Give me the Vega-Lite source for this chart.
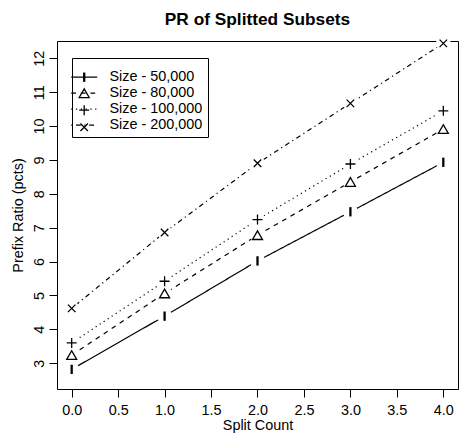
{
  "$schema": "https://vega.github.io/schema/vega-lite/v6.json",
  "width": 401,
  "height": 348,
  "autosize": {"type": "none"},
  "padding": {"left": 57, "top": 41, "right": 3, "bottom": 46},
  "background": "white",
  "title": {
    "text": "PR of Splitted Subsets",
    "font": "Liberation Sans",
    "fontSize": 17.3,
    "fontWeight": "bold",
    "color": "black",
    "anchor": "middle",
    "frame": "group",
    "baseline": "alphabetic",
    "offset": 16,
    "dy": 22
  },
  "data": {
    "values": [
      {"split": 0, "pr": 2.82, "size": "Size - 50,000"},
      {"split": 1, "pr": 4.39, "size": "Size - 50,000"},
      {"split": 2, "pr": 6.02, "size": "Size - 50,000"},
      {"split": 3, "pr": 7.47, "size": "Size - 50,000"},
      {"split": 4, "pr": 8.93, "size": "Size - 50,000"},
      {"split": 0, "pr": 3.24, "size": "Size - 80,000"},
      {"split": 1, "pr": 5.06, "size": "Size - 80,000"},
      {"split": 2, "pr": 6.78, "size": "Size - 80,000"},
      {"split": 3, "pr": 8.35, "size": "Size - 80,000"},
      {"split": 4, "pr": 9.91, "size": "Size - 80,000"},
      {"split": 0, "pr": 3.60, "size": "Size - 100,000"},
      {"split": 1, "pr": 5.42, "size": "Size - 100,000"},
      {"split": 2, "pr": 7.24, "size": "Size - 100,000"},
      {"split": 3, "pr": 8.88, "size": "Size - 100,000"},
      {"split": 4, "pr": 10.45, "size": "Size - 100,000"},
      {"split": 0, "pr": 4.62, "size": "Size - 200,000"},
      {"split": 1, "pr": 6.86, "size": "Size - 200,000"},
      {"split": 2, "pr": 8.90, "size": "Size - 200,000"},
      {"split": 3, "pr": 10.67, "size": "Size - 200,000"},
      {"split": 4, "pr": 12.44, "size": "Size - 200,000"}
    ]
  },
  "encoding": {
    "x": {
      "field": "split",
      "type": "quantitative",
      "scale": {"domain": [-0.158, 4.158], "nice": false, "zero": false},
      "axis": {
        "values": [0, 0.5, 1, 1.5, 2, 2.5, 3, 3.5, 4],
        "format": ".1f",
        "title": "Split Count",
        "titleY": 40,
        "titleBaseline": "alphabetic",
        "labelBaseline": "alphabetic",
        "labelPadding": 17.5,
        "labelFlush": false,
        "labelOverlap": false
      }
    },
    "y": {
      "field": "pr",
      "type": "quantitative",
      "scale": {"domain": [2.24, 12.51], "nice": false, "zero": false},
      "axis": {
        "values": [3, 4, 5, 6, 7, 8, 9, 10, 11, 12],
        "format": "d",
        "labelAngle": 270,
        "labelAlign": "center",
        "labelBaseline": "alphabetic",
        "labelPadding": 6,
        "labelFlush": false,
        "labelOverlap": false,
        "title": "Prefix Ratio (pcts)",
        "titleX": -35,
        "titleY": 174,
        "titleAngle": 270,
        "titleAlign": "center",
        "titleBaseline": "alphabetic"
      }
    }
  },
  "layer": [
    {
      "mark": {"type": "line", "stroke": "black", "strokeWidth": 1.2},
      "encoding": {
        "strokeDash": {
          "field": "size",
          "type": "nominal",
          "sort": ["Size - 50,000", "Size - 80,000", "Size - 100,000", "Size - 200,000"],
          "scale": {"range": [[1, 0], [4.8, 4.8], [1.2, 3.6], [1.2, 3.6, 4.8, 3.6]]},
          "legend": {
            "title": " ",
            "titleFontSize": 1,
            "titlePadding": 6,
            "orient": "none",
            "legendX": 15,
            "legendY": 17,
            "padding": 5,
            "strokeColor": "black",
            "fillColor": "white",
            "cornerRadius": 0,
            "symbolType": "M-2.6,0L2.6,0",
            "symbolSize": 100,
            "symbolStrokeWidth": 1.2,
            "symbolStrokeColor": "black",
            "symbolFillColor": "transparent",
            "symbolOffset": 0,
            "labelOffset": 18,
            "labelFont": "Liberation Sans",
            "labelFontSize": 14.4,
            "labelColor": "black",
            "labelLimit": 300,
            "rowPadding": 1,
            "zindex": 0
          }
        }
      }
    },
    {
      "mark": {"type": "circle", "fill": "white", "opacity": 1, "size": 227, "strokeWidth": 0}
    },
    {
      "mark": {"type": "point", "filled": false, "stroke": "black", "strokeWidth": 1.3, "size": 100, "opacity": 1},
      "encoding": {
        "shape": {
          "field": "size",
          "type": "nominal",
          "scale": {
            "domain": ["Size - 50,000", "Size - 80,000", "Size - 100,000", "Size - 200,000"],
            "range": [
              "M-0.1,-0.8L0.1,-0.8L0.1,0.8L-0.1,0.8Z",
              "triangle-up",
              "M-1,0L1,0M0,-1L0,1",
              "M-0.75,-0.75L0.75,0.75M-0.75,0.75L0.75,-0.75"
            ]
          },
          "legend": {
            "title": " ",
            "titleFontSize": 1,
            "titlePadding": 7,
            "orient": "top-left",
            "offset": 16,
            "padding": 5,
            "strokeColor": null,
            "fillColor": null,
            "symbolSize": 100,
            "symbolStrokeWidth": 1.3,
            "symbolStrokeColor": "black",
            "symbolFillColor": "transparent",
            "symbolOffset": -1,
            "labelOffset": 18,
            "labelFont": "Liberation Sans",
            "labelFontSize": 14.4,
            "labelOpacity": 0,
            "labelLimit": 300,
            "rowPadding": 1,
            "zindex": 1
          }
        }
      }
    }
  ],
  "config": {
    "font": "Liberation Sans",
    "view": {"stroke": "black", "strokeWidth": 1},
    "axis": {
      "domain": false,
      "grid": false,
      "ticks": true,
      "tickColor": "black",
      "tickSize": 8,
      "tickWidth": 1,
      "labelFont": "Liberation Sans",
      "labelFontSize": 14.4,
      "labelColor": "black",
      "titleFont": "Liberation Sans",
      "titleFontSize": 14.4,
      "titleFontWeight": "normal",
      "titleColor": "black"
    }
  }
}
